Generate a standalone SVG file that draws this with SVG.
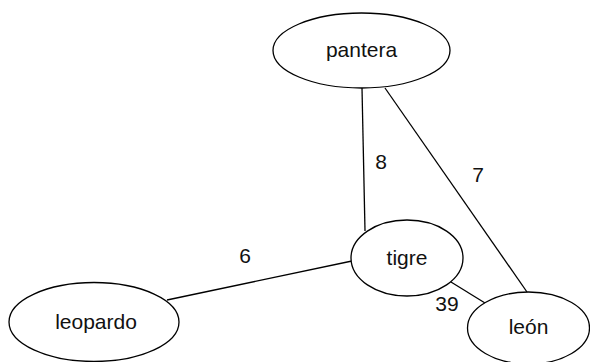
<svg xmlns="http://www.w3.org/2000/svg" width="590" height="362" viewBox="0 0 590 362">
<style>
.n ellipse{fill:#fff;stroke:#000;stroke-width:1.3}
text{font-family:"Liberation Sans",Arial,sans-serif;font-size:21px;fill:#111;text-anchor:middle}
.e line{stroke:#000;stroke-width:1.3}
</style>
<rect width="590" height="362" fill="#fff"/>
<g class="e" id="connectors">
<line x1="362" y1="88" x2="365" y2="231"/>
<line x1="385" y1="88" x2="527" y2="292"/>
<line x1="352" y1="261" x2="167" y2="300"/>
<line x1="451" y1="282" x2="485" y2="303"/>
<text x="381" y="169">8</text>
<text x="478" y="182">7</text>
<text x="245" y="263">6</text>
<text x="447" y="311">39</text>
</g>
<g class="n" id="pantera"><ellipse cx="361.5" cy="50.5" rx="88.5" ry="37.5"/><text x="361.5" y="57">pantera</text></g>
<g class="n" id="tigre"><ellipse cx="407" cy="258" rx="56" ry="38"/><text x="407" y="265">tigre</text></g>
<g class="n" id="leon"><ellipse cx="528.5" cy="328" rx="61" ry="36"/><text x="528.5" y="334">león</text></g>
<g class="n" id="leopardo"><ellipse cx="94" cy="322" rx="85" ry="39.5"/><text x="96" y="329">leopardo</text></g>
</svg>
